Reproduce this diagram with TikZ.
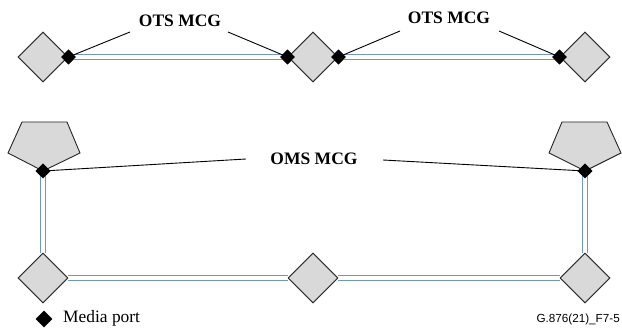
\documentclass[tikz,border=0pt]{standalone}
\usepackage{fontspec}
\setmainfont{Liberation Serif}
\newfontfamily\labelsans{Liberation Sans}
\usetikzlibrary{shapes.geometric}
\definecolor{lineblue}{RGB}{110,150,205}
\definecolor{boxgray}{RGB}{217,217,217}
\tikzset{
  bigdia/.style={shape=diamond, draw=black!85, fill=boxgray, line width=0.9pt, minimum width=50pt, minimum height=50pt, inner sep=0pt},
  port/.style={shape=diamond, fill=black, minimum width=15pt, minimum height=15pt, inner sep=0pt},
  link/.style={draw=lineblue, line width=1.1pt, double=white, double distance=4pt},
  leader/.style={draw=black, line width=0.9pt},
  mcg/.style={font=\fontsize{17.5}{20}\selectfont\bfseries, inner sep=0pt},
  pent/.style={draw=black!85, fill=boxgray, line width=0.9pt, line join=miter}
}
\begin{document}
\begin{tikzpicture}[x=1pt,y=-1pt]
\useasboundingbox (0,0) rectangle (622,331);
% top row
\node[bigdia] (a1) at (43,57) {};
\node[bigdia] (a2) at (313,57) {};
\node[bigdia] (a3) at (585,57) {};
\node[port] (p1) at (a1.east) {};
\node[port] (p2) at (a2.west) {};
\node[port] (p3) at (a2.east) {};
\node[port] (p4) at (a3.west) {};
% bottom ring
\path[pent] (22,122) -- (67,122) -- (80,153) -- (43,171) -- (8,153) -- cycle;
\path[pent] (562,122) -- (607,122) -- (621,153) -- (585,171) -- (549,153) -- cycle;
\node[bigdia] (b1) at (43,278) {};
\node[bigdia] (b2) at (313,278) {};
\node[bigdia] (b3) at (585,278) {};
\node[port] (q1) at (43,171) {};
\node[port] (q2) at (585,171) {};
% links
\begin{scope}[on background layer/.try]
\end{scope}
\path[link] (p1.center) -- (p2.center);
\path[link] (p3.center) -- (p4.center);
\path[link] (q1.center) -- (b1.north);
\path[link] (q2.center) -- (b3.north);
\path[link] (b1.east) -- (b2.west);
\path[link] (b2.east) -- (b3.west);
% redraw nodes over links
\node[bigdia] at (43,57) {};
\node[bigdia] at (313,57) {};
\node[bigdia] at (585,57) {};
\node[bigdia] at (43,278) {};
\node[bigdia] at (313,278) {};
\node[bigdia] at (585,278) {};
% labels
\node[mcg] (t1) at (180,21) {OTS MCG};
\node[mcg] (t2) at (449,18) {OTS MCG};
\node[mcg] (t3) at (314,159) {OMS MCG};
\coordinate (t1l) at (130,32);
\coordinate (t1r) at (228,32);
\coordinate (t2l) at (400,31);
\coordinate (t2r) at (499,31);
\coordinate (t3l) at (246,159);
\coordinate (t3r) at (383,160);
\path[leader] (t1l) -- (p1.center);
\path[leader] (t1r) -- (p2.center);
\path[leader] (t2l) -- (p3.center);
\path[leader] (t2r) -- (p4.center);
\path[leader] (t3l) -- (q1.center);
\path[leader] (t3r) -- (q2.center);
% ports on top
\node[port] at (p1) {};
\node[port] at (p2) {};
\node[port] at (p3) {};
\node[port] at (p4) {};
\node[port] at (q1) {};
\node[port] at (q2) {};
% legend
\node[port, minimum width=17pt, minimum height=17pt] (lg) at (44,319) {};
\node[anchor=west, inner sep=0pt, font=\fontsize{17.4}{20}\selectfont] (lgt) at (63,318) {Media port};
\node[anchor=east, inner sep=0pt, font=\labelsans\fontsize{11.7}{14}\selectfont] (fig) at (620,319) {G.876(21)\_F7-5};
\end{tikzpicture}
\end{document}
